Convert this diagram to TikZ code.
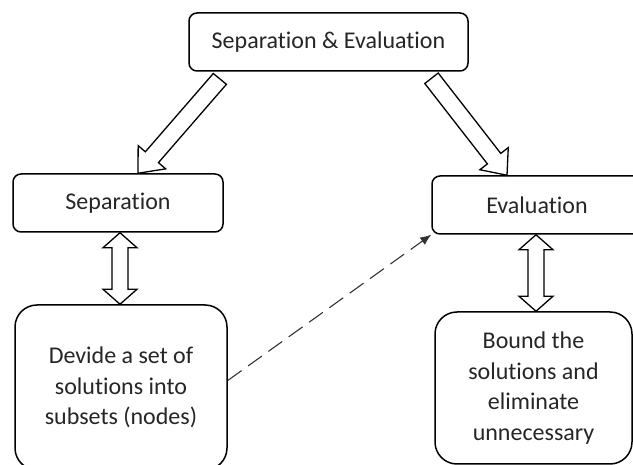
\documentclass[tikz,border=0pt]{standalone}
\usepackage{fontspec}
\setmainfont{Carlito}[Ligatures=NoCommon]
\usetikzlibrary{arrows.meta,calc,positioning}
\definecolor{inkgray}{HTML}{262626}
\tikzset{
  box/.style={rectangle,rounded corners=8pt,draw=black,line width=1.5pt,fill=white,
    minimum width=210pt,minimum height=58pt,align=center,text=inkgray,
    font=\fontsize{24}{30.5}\selectfont},
  tallbox/.style={box,rounded corners=22pt},
  hollow/.style={draw=black,line width=1.3pt,fill=white,
    to path={let \p1=(\tikztostart), \p2=(\tikztotarget),
      \n1={atan2(\y2-\y1,\x2-\x1)}, \n2={veclen(\x2-\x1,\y2-\y1)} in
      (\p1) ++({\n1+90}:8.5pt) -- ++(\n1:{\n2-21pt}) -- ++({\n1+90}:9.5pt) -- (\p2)
      -- ($(\p2)+({\n1+180}:21pt)+({\n1-90}:18pt)$) -- ++({\n1+90}:9.5pt)
      -- ++({\n1+180}:{\n2-21pt}) -- cycle}},
  hollowboth/.style={draw=black,line width=1.3pt,fill=white,
    to path={let \p1=(\tikztostart), \p2=(\tikztotarget),
      \n1={atan2(\y2-\y1,\x2-\x1)}, \n2={veclen(\x2-\x1,\y2-\y1)} in
      (\p1) -- ($(\p1)+(\n1:15pt)+({\n1+90}:17pt)$) -- ++({\n1-90}:9pt)
      -- ++(\n1:{\n2-30pt}) -- ++({\n1+90}:9pt) -- (\p2)
      -- ($(\p2)+({\n1+180}:15pt)+({\n1-90}:17pt)$) -- ++({\n1+90}:9pt)
      -- ++({\n1+180}:{\n2-30pt}) -- ++({\n1-90}:9pt) -- cycle}},
  dasharrow/.style={-{Latex[length=11pt,width=9pt]},line width=1.1pt,draw=black!80,
    dash pattern=on 17pt off 8pt}
}
\begin{document}
\begin{tikzpicture}[x=1pt,y=-1pt]
\useasboundingbox (0,0) rectangle (633,465);
\clip (0,0) rectangle (633,465);
\node[box,minimum width=279pt] (whole) at (328.5,42) {Separation \& Evaluation};
\node[box] (sep) at (118,203) {Separation};
\node[box] (eval) at (537,205) {Evaluation};
\node[tallbox,minimum width=212pt,minimum height=165pt] (divide) at (121,387.5) {Devide a set of\\solutions into\\subsets (nodes)};
\node[tallbox,minimum width=197pt,minimum height=152pt] (bound) at (533.5,388) {Bound the\\solutions and\\eliminate\\unnecessary};
\draw[hollow] ([xshift=-108.5pt,yshift=-7pt]whole.south) to ([xshift=20pt]sep.north);
\draw[hollow] ([xshift=103pt,yshift=-6.5pt]whole.south) to ([xshift=-30pt]eval.north);
\draw[hollowboth] ([xshift=2pt]sep.south) to ([xshift=-1pt]divide.north);
\draw[hollowboth] ([xshift=-1pt]eval.south) to ([xshift=2.5pt]bound.north);
\draw[dasharrow] ([yshift=7pt]divide.east) -- (eval.south west);
\end{tikzpicture}
\end{document}
